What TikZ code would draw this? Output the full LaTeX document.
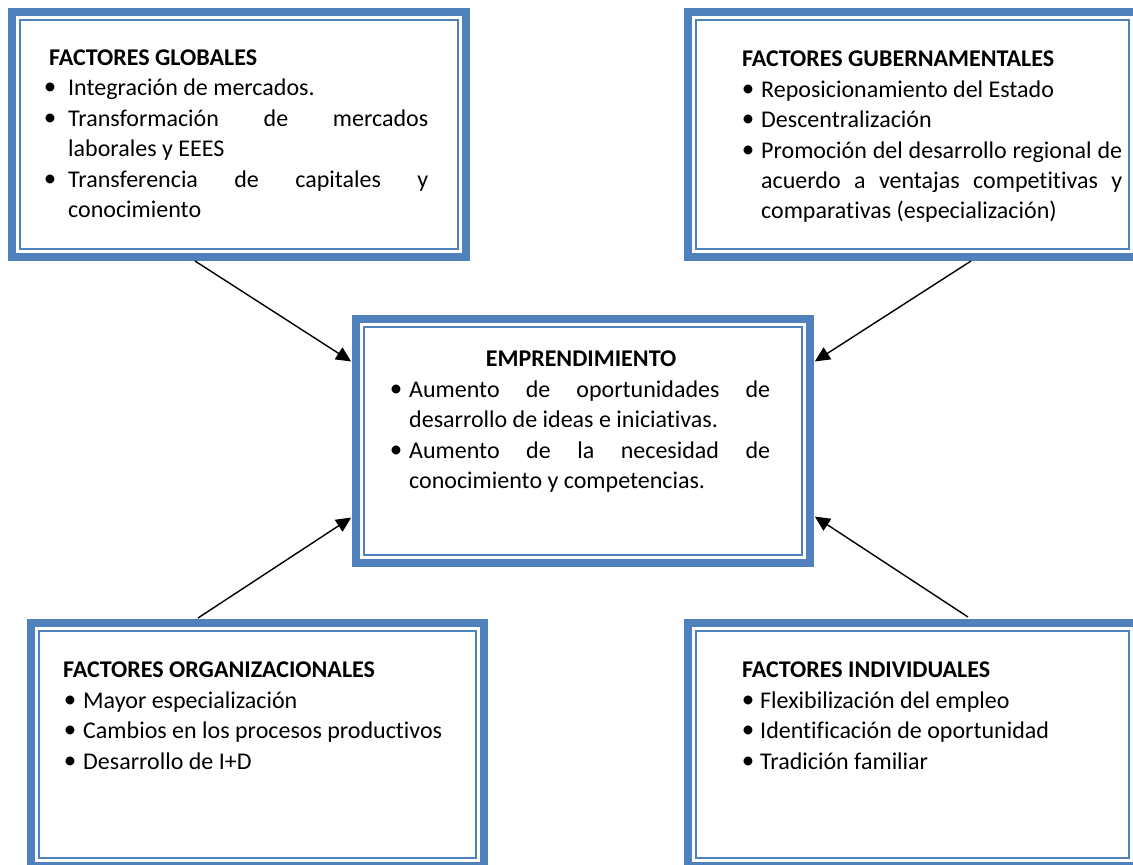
\documentclass[tikz,border=0pt]{standalone}
\usepackage{fontspec}
\setmainfont{Carlito}[Ligatures={NoCommon}]
\usetikzlibrary{arrows.meta}
\definecolor{bord}{HTML}{4F81BD}
\tikzset{
  box/.style={draw=bord, line width=8pt, inner sep=0pt, outer sep=4pt, fill=white},
  thinband/.style={draw=bord, line width=2pt},
  txt/.style={anchor=base west, inner sep=0pt, font=\fontsize{24}{30}\selectfont},
  ttl/.style={anchor=base west, inner sep=0pt, font=\fontsize{24}{30}\selectfont\bfseries},
  bul/.style={anchor=center, inner sep=0pt, font=\fontsize{25}{25}\selectfont},
  arr/.style={-{Triangle[length=15pt,width=14pt]}, line width=1.4pt, black, shorten >=1pt}
}
\newcommand{\innerband}[1]{\draw[thinband] ([shift={(12pt,-12pt)}]#1.north west) rectangle ([shift={(-12pt,12pt)}]#1.south east);}
\begin{document}
\begin{tikzpicture}[x=1pt,y=-1pt]
\useasboundingbox (0,0) rectangle (1133,865);
\clip (0,0) rectangle (1133,865);
% boxes
\node[box, minimum width=454pt, minimum height=245pt] (gl) at (239,134.5) {};
\node[box, minimum width=449pt, minimum height=245pt] (gu) at (912.5,134.5) {};
\node[box, minimum width=454pt, minimum height=244pt] (em) at (583,441) {};
\node[box, minimum width=453pt, minimum height=243pt] (og) at (257.5,744.5) {};
\node[box, minimum width=449pt, minimum height=243pt] (in) at (912.5,744.5) {};
\innerband{gl}\innerband{gu}\innerband{em}\innerband{og}\innerband{in}
% FACTORES GLOBALES
\node[ttl] (gl0) at (49,65) {FACTORES GLOBALES};
\node[bul] (glb1) at (50,89) {•};
\node[txt] (gl1) at (68,95) {Integración de mercados.};
\node[bul] (glb2) at (50,120) {•};
\node[txt] (gl2) at (68,126) {\hbox to 360pt{Transformación\hfill de\hfill mercados}};
\node[txt] (gl3) at (68,156) {laborales y EEES};
\node[bul] (glb3) at (50,181) {•};
\node[txt] (gl4) at (68,187) {\hbox to 360pt{Transferencia\hfill de\hfill capitales\hfill y}};
\node[txt] (gl5) at (68,217) {conocimiento};
% FACTORES GUBERNAMENTALES
\node[ttl] (gu0) at (742,66) {FACTORES GUBERNAMENTALES};
\node[bul] (gub1) at (748,91) {•};
\node[txt] (gu1) at (761,97) {Reposicionamiento del Estado};
\node[bul] (gub2) at (748,121) {•};
\node[txt] (gu2) at (761,127) {Descentralización};
\node[bul] (gub3) at (748,152) {•};
\node[txt] (gu3) at (761,158) {\hbox to 361pt{Promoción\hfill del\hfill desarrollo\hfill regional\hfill de}};
\node[txt] (gu4) at (761,188) {\hbox to 361pt{acuerdo\hfill a\hfill ventajas\hfill competitivas\hfill y}};
\node[txt] (gu5) at (761,218) {comparativas (especialización)};
% EMPRENDIMIENTO
\node[anchor=base, inner sep=0pt, font=\fontsize{24}{30}\selectfont\bfseries] (em0) at (581,366) {EMPRENDIMIENTO};
\node[bul] (emb1) at (396,391) {•};
\node[txt] (em1) at (409,397) {\hbox to 361pt{Aumento\hfill de\hfill oportunidades\hfill de}};
\node[txt] (em2) at (409,427) {desarrollo de ideas e iniciativas.};
\node[bul] (emb2) at (396,452) {•};
\node[txt] (em3) at (409,458) {\hbox to 361pt{Aumento\hfill de\hfill la\hfill necesidad\hfill de}};
\node[txt] (em4) at (409,488) {conocimiento y competencias.};
% FACTORES ORGANIZACIONALES
\node[ttl] (og0) at (63,677) {FACTORES ORGANIZACIONALES};
\node[bul] (ogb1) at (70,702) {•};
\node[txt] (og1) at (83,708) {Mayor especialización};
\node[bul] (ogb2) at (70,732) {•};
\node[txt] (og2) at (83,738) {Cambios en los procesos productivos};
\node[bul] (ogb3) at (70,763) {•};
\node[txt] (og3) at (83,769) {Desarrollo de I+D};
% FACTORES INDIVIDUALES
\node[ttl] (in0) at (742,677) {FACTORES INDIVIDUALES};
\node[bul] (inb1) at (748,702) {•};
\node[txt] (in1) at (760,708) {Flexibilización del empleo};
\node[bul] (inb2) at (748,732) {•};
\node[txt] (in2) at (760,738) {Identificación de oportunidad};
\node[bul] (inb3) at (748,763) {•};
\node[txt] (in3) at (760,769) {Tradición familiar};
% arrows
\draw[arr] ([xshift=-44pt]gl.south) -- ([yshift=79pt]em.west);
\draw[arr] ([xshift=58.5pt]gu.south) -- ([yshift=79pt]em.east);
\draw[arr] ([xshift=-59.5pt,yshift=1pt]og.north) -- ([yshift=-76pt]em.west);
\draw[arr] ([xshift=55.5pt,yshift=2pt]in.north) -- ([yshift=-75pt]em.east);
\end{tikzpicture}
\end{document}
